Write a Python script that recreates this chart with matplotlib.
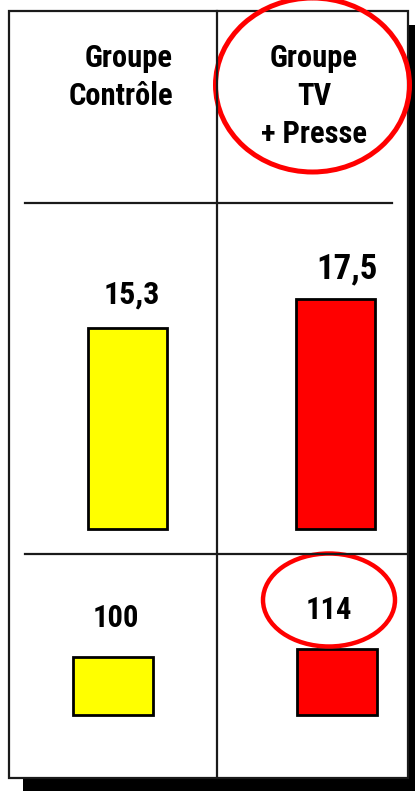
import matplotlib.pyplot as plt
from matplotlib.patches import Rectangle, Ellipse

# narrow sans for all labels; missing families are skipped
plt.rcParams['font.family'] = ['Liberation Sans Narrow', 'Roboto Condensed', 'Archivo Narrow', 'DejaVu Sans']

groups = ['Groupe\nContrôle', 'Groupe\nTV\n+ Presse']
scores = [15.3, 17.5]
index = [100, 114]
colors = ['#ffff00', '#ff0000']

W, H = 415, 791
fig = plt.figure(figsize=(W / 100, H / 100), dpi=100)

# background: shadow + white table box
bg = fig.add_axes([0, 0, 1, 1])
bg.set_xlim(0, W)
bg.set_ylim(H, 0)
bg.axis('off')
bg.add_patch(Rectangle((23, 25), 400, 780, facecolor='black', edgecolor='none'))
bg.add_patch(Rectangle((8.5, 10.5), 399, 767, facecolor='white', edgecolor='#1a1a1a', lw=1.6))

col_x = [127.5, 335.5]
bar_w = 79


def fmt(v):
    s = f"{v:.1f}" if v % 1 else f"{v:.0f}"
    return s.replace('.', ',')


# middle row: scores
ax1 = fig.add_axes([0, 1 - 529 / H, 1, 279 / H])
ax1.set_xlim(0, W)
ax1.set_ylim(0, 279 / 13.14)
ax1.axis('off')
ax1.bar(col_x, scores, width=bar_w, color=colors, edgecolor='black', lw=2, clip_on=False)
for x, v, dx, dy, fs in zip(col_x, scores, [3, 8], [24, 22], [23, 25]):
    ax1.annotate(fmt(v), (x, v), xytext=(dx, dy), textcoords='offset points',
                 ha='center', va='center', fontsize=fs, fontweight='bold')

# bottom row: index
ax2 = fig.add_axes([0, 1 - 715 / H, 1, 100 / H])
ax2.set_xlim(0, W)
ax2.set_ylim(0, 100 / 0.58)
ax2.axis('off')
ax2.bar([113, 337], index, width=80, color=colors, edgecolor='black', lw=2, clip_on=False)
for x, v, dx in zip([113, 337], index, [2, -6]):
    ax2.annotate(fmt(v), (x, v), xytext=(dx, 28), textcoords='offset points',
                 ha='center', va='center', fontsize=22, fontweight='bold')

# overlay: grid lines, headers, highlight circles
ov = fig.add_axes([0, 0, 1, 1])
ov.set_xlim(0, W)
ov.set_ylim(H, 0)
ov.axis('off')
ov.plot([217, 217], [10.5, 777.5], color='#1a1a1a', lw=1.6)
ov.plot([25, 392], [203, 203], color='#1a1a1a', lw=1.6)
ov.plot([25, 407.5], [554, 554], color='#1a1a1a', lw=1.6)

for i, lbl in enumerate(groups[0].split('\n')):
    ov.text(173, 67 + 38 * i, lbl, ha='right', va='baseline', fontsize=22, fontweight='bold')
for i, lbl in enumerate(groups[1].split('\n')):
    ov.text(314, 67 + 38 * i, lbl, ha='center', va='baseline', fontsize=22, fontweight='bold')

ov.add_patch(Ellipse((312.5, 85), 194, 174, facecolor='none', edgecolor='#ff0000', lw=3.6))
ov.add_patch(Ellipse((329, 600), 132, 93, facecolor='none', edgecolor='#ff0000', lw=3.2))

fig.savefig('out.png', dpi=100)
